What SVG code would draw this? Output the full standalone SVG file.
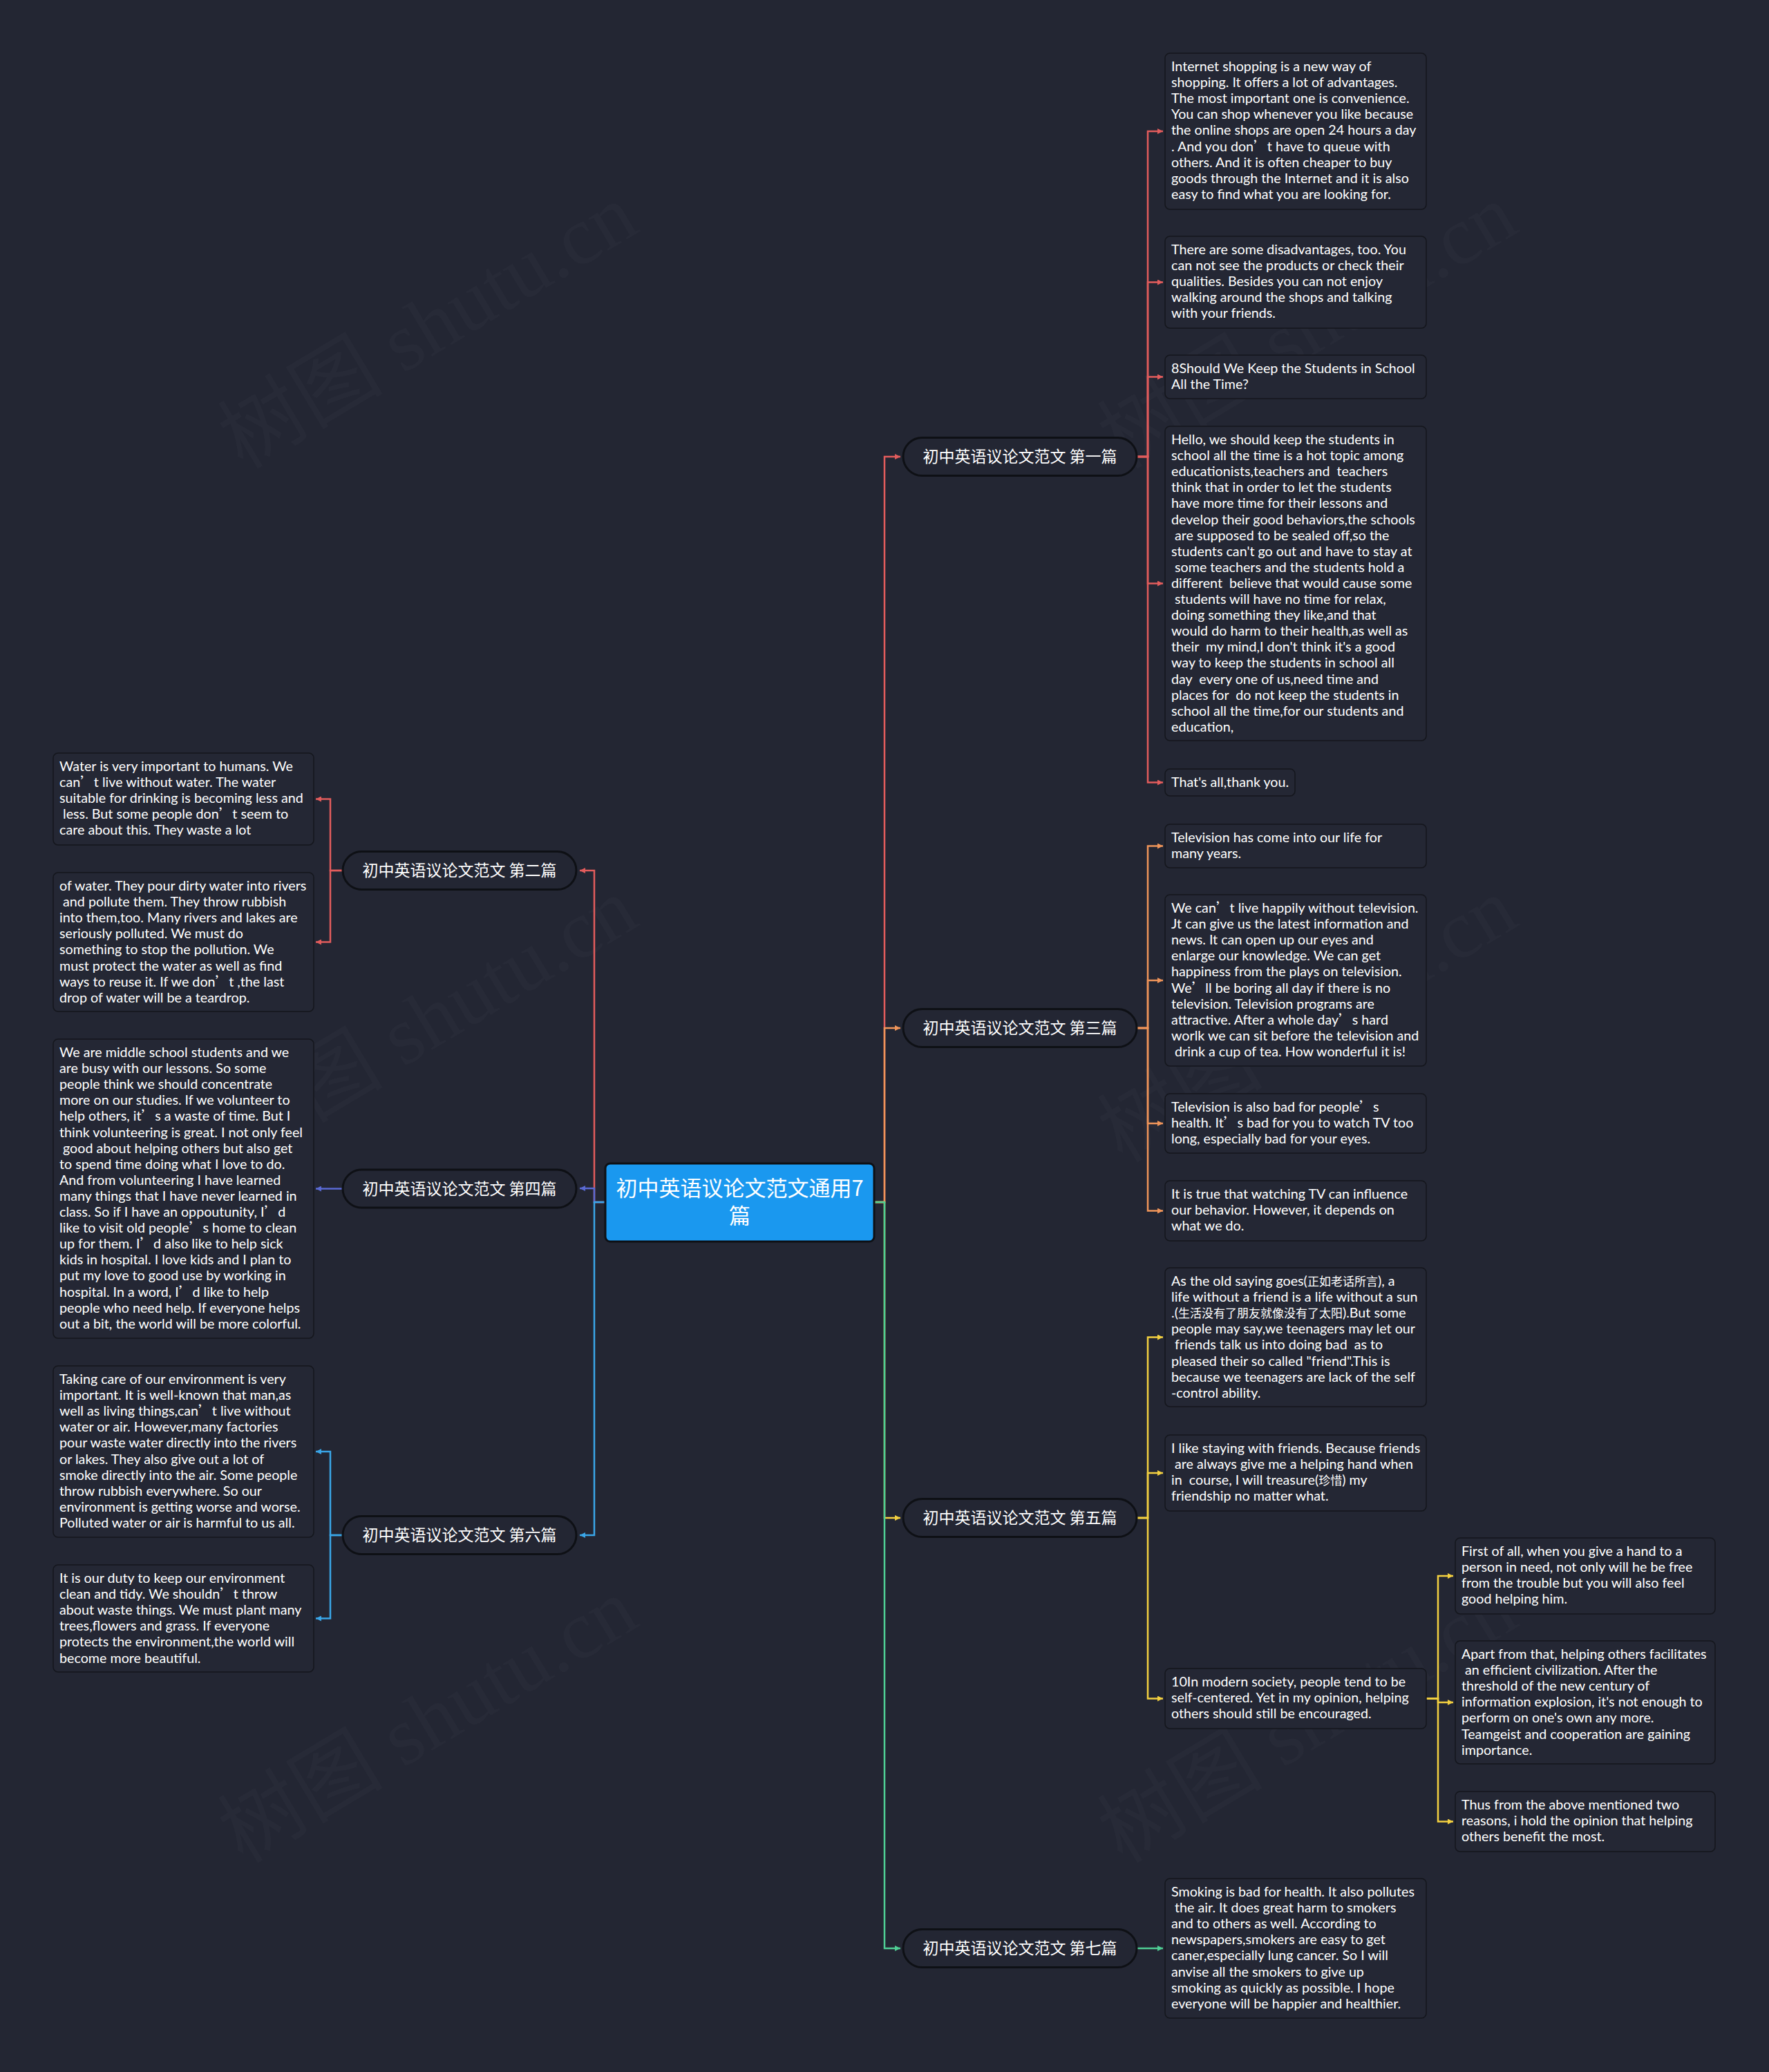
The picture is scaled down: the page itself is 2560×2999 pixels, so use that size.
<svg xmlns="http://www.w3.org/2000/svg" width="2560" height="2999" viewBox="0 0 2560 2999">
<style>
.bg{fill:#232633}
.wm{font-family:"Liberation Serif","Noto Sans CJK SC",serif;font-size:120px;fill:#ffffff;fill-opacity:0.02}
.box{fill:#242734;stroke:#14161c;stroke-width:1.5}
.bt{font-family:Lato,"Noto Sans CJK SC",sans-serif;font-size:19.7px;fill:#ffffff}
.q{font-family:"Noto Sans CJK SC",sans-serif}
.cj{font-family:"Noto Sans CJK SC",sans-serif;font-size:17px}
.nd{fill:#232633;stroke:#0e1015;stroke-width:3}
.nt{font-family:"Noto Sans CJK SC",sans-serif;font-size:23px;fill:#ffffff;text-anchor:middle}
.root{fill:#1a98ef;stroke:#0e1015;stroke-width:3}
.rt{font-family:"Noto Sans CJK SC",sans-serif;font-size:31px;fill:#ffffff;text-anchor:middle}
.c path{fill:none;stroke-width:2.5}
.red{stroke:#e25c5c}
.ora{stroke:#f0955a}
.yel{stroke:#f3d040}
.gre{stroke:#4fcf95}
.ind{stroke:#5a6ad4}
.blu{stroke:#3aa6e8}
</style>
<defs>
<marker id="aR" viewBox="0 0 10 10" refX="10" refY="5" markerWidth="9" markerHeight="8" markerUnits="userSpaceOnUse" orient="auto"><path d="M0,0L10,5L0,10z" fill="#e25c5c"/></marker>
<marker id="aO" viewBox="0 0 10 10" refX="10" refY="5" markerWidth="9" markerHeight="8" markerUnits="userSpaceOnUse" orient="auto"><path d="M0,0L10,5L0,10z" fill="#f0955a"/></marker>
<marker id="aY" viewBox="0 0 10 10" refX="10" refY="5" markerWidth="9" markerHeight="8" markerUnits="userSpaceOnUse" orient="auto"><path d="M0,0L10,5L0,10z" fill="#f3d040"/></marker>
<marker id="aG" viewBox="0 0 10 10" refX="10" refY="5" markerWidth="9" markerHeight="8" markerUnits="userSpaceOnUse" orient="auto"><path d="M0,0L10,5L0,10z" fill="#4fcf95"/></marker>
<marker id="aI" viewBox="0 0 10 10" refX="10" refY="5" markerWidth="9" markerHeight="8" markerUnits="userSpaceOnUse" orient="auto"><path d="M0,0L10,5L0,10z" fill="#5a6ad4"/></marker>
<marker id="aB" viewBox="0 0 10 10" refX="10" refY="5" markerWidth="9" markerHeight="8" markerUnits="userSpaceOnUse" orient="auto"><path d="M0,0L10,5L0,10z" fill="#3aa6e8"/></marker>
</defs>
<rect class="bg" x="0" y="0" width="2560" height="2999"/>
<g id="watermarks">
<text class="wm" transform="translate(640,507) rotate(-31)" text-anchor="middle">树图 shutu.cn</text>
<text class="wm" transform="translate(1913,507) rotate(-31)" text-anchor="middle">树图 shutu.cn</text>
<text class="wm" transform="translate(640,1511) rotate(-31)" text-anchor="middle">树图 shutu.cn</text>
<text class="wm" transform="translate(1913,1511) rotate(-31)" text-anchor="middle">树图 shutu.cn</text>
<text class="wm" transform="translate(640,2525) rotate(-31)" text-anchor="middle">树图 shutu.cn</text>
<text class="wm" transform="translate(1913,2525) rotate(-31)" text-anchor="middle">树图 shutu.cn</text>
</g>
<g id="connectors" class="c">
<path class="red" d="M1265,1740H1280V661H1303" marker-end="url(#aR)"/>
<path class="ora" d="M1265,1740H1280V1488H1303" marker-end="url(#aO)"/>
<path class="yel" d="M1265,1740H1280V2197H1303" marker-end="url(#aY)"/>
<path class="gre" d="M1265,1740H1280V2820H1303" marker-end="url(#aG)"/>
<path class="red" d="M876,1740H860V1260H839" marker-end="url(#aR)"/>
<path class="ind" d="M876,1740H860V1720H839" marker-end="url(#aI)"/>
<path class="blu" d="M876,1740H860V2222H839" marker-end="url(#aB)"/>
<path class="red" d="M1645,661H1661V190H1683" marker-end="url(#aR)"/>
<path class="red" d="M1645,661H1661V408.5H1683" marker-end="url(#aR)"/>
<path class="red" d="M1645,661H1661V545.5H1683" marker-end="url(#aR)"/>
<path class="red" d="M1645,661H1661V844.5H1683" marker-end="url(#aR)"/>
<path class="red" d="M1645,661H1661V1132.5H1683" marker-end="url(#aR)"/>
<path class="ora" d="M1645,1488H1661V1224.5H1683" marker-end="url(#aO)"/>
<path class="ora" d="M1645,1488H1661V1419H1683" marker-end="url(#aO)"/>
<path class="ora" d="M1645,1488H1661V1626H1683" marker-end="url(#aO)"/>
<path class="ora" d="M1645,1488H1661V1752.5H1683" marker-end="url(#aO)"/>
<path class="yel" d="M1645,2197H1661V1935.5H1683" marker-end="url(#aY)"/>
<path class="yel" d="M1645,2197H1661V2132H1683" marker-end="url(#aY)"/>
<path class="yel" d="M1645,2197H1661V2458.5H1683" marker-end="url(#aY)"/>
<path class="yel" d="M2064,2458.5H2081V2281H2103" marker-end="url(#aY)"/>
<path class="yel" d="M2064,2458.5H2081V2464H2103" marker-end="url(#aY)"/>
<path class="yel" d="M2064,2458.5H2081V2636.5H2103" marker-end="url(#aY)"/>
<path class="gre" d="M1645,2820H1683" marker-end="url(#aG)"/>
<path class="red" d="M496,1260H478V1156.5H457" marker-end="url(#aR)"/>
<path class="red" d="M496,1260H478V1363.5H457" marker-end="url(#aR)"/>
<path class="ind" d="M496,1720.5H457" marker-end="url(#aI)"/>
<path class="blu" d="M496,2222H478V2101H457" marker-end="url(#aB)"/>
<path class="blu" d="M496,2222H478V2342.5H457" marker-end="url(#aB)"/>
</g>
<g id="root">
<rect class="root" x="876" y="1684" width="389" height="113" rx="7"/>
<text class="rt"><tspan x="1070.5" y="1731">初中英语议论文范文通用7</tspan><tspan x="1070.5" y="1771">篇</tspan></text>
</g>
<g id="n1"><rect class="nd" x="1307" y="633.5" width="338" height="55" rx="27.5"/><text class="nt" x="1476" y="669">初中英语议论文范文 第一篇</text></g>
<g id="n3"><rect class="nd" x="1307" y="1460.5" width="338" height="55" rx="27.5"/><text class="nt" x="1476" y="1496">初中英语议论文范文 第三篇</text></g>
<g id="n5"><rect class="nd" x="1307" y="2169.5" width="338" height="55" rx="27.5"/><text class="nt" x="1476" y="2205">初中英语议论文范文 第五篇</text></g>
<g id="n7"><rect class="nd" x="1307" y="2792.5" width="338" height="55" rx="27.5"/><text class="nt" x="1476" y="2828">初中英语议论文范文 第七篇</text></g>
<g id="n2"><rect class="nd" x="496" y="1232.5" width="338" height="55" rx="27.5"/><text class="nt" x="665" y="1268">初中英语议论文范文 第二篇</text></g>
<g id="n4"><rect class="nd" x="496" y="1693" width="338" height="55" rx="27.5"/><text class="nt" x="665" y="1728.5">初中英语议论文范文 第四篇</text></g>
<g id="n6"><rect class="nd" x="496" y="2194.5" width="338" height="55" rx="27.5"/><text class="nt" x="665" y="2230">初中英语议论文范文 第六篇</text></g>
<g id="t1"><rect class="box" x="1686" y="77" width="378" height="226" rx="7"/><text class="bt" xml:space="preserve"><tspan x="1695" y="103">Internet shopping is a new way of</tspan><tspan x="1695" y="126.1">shopping. It offers a lot of advantages.</tspan><tspan x="1695" y="149.2">The most important one is convenience.</tspan><tspan x="1695" y="172.3">You can shop whenever you like because</tspan><tspan x="1695" y="195.4">the online shops are open 24 hours a day</tspan><tspan x="1695" y="218.5">. And you don<tspan class="q">’</tspan>t have to queue with</tspan><tspan x="1695" y="241.6">others. And it is often cheaper to buy</tspan><tspan x="1695" y="264.7">goods through the Internet and it is also</tspan><tspan x="1695" y="287.8">easy to find what you are looking for.</tspan></text></g>
<g id="t2"><rect class="box" x="1686" y="342" width="378" height="133" rx="7"/><text class="bt" xml:space="preserve"><tspan x="1695" y="368">There are some disadvantages, too. You</tspan><tspan x="1695" y="391.1">can not see the products or check their</tspan><tspan x="1695" y="414.2">qualities. Besides you can not enjoy</tspan><tspan x="1695" y="437.3">walking around the shops and talking</tspan><tspan x="1695" y="460.4">with your friends.</tspan></text></g>
<g id="t3"><rect class="box" x="1686" y="514" width="378" height="63" rx="7"/><text class="bt" xml:space="preserve"><tspan x="1695" y="540">8Should We Keep the Students in School</tspan><tspan x="1695" y="563.1">All the Time?</tspan></text></g>
<g id="t4"><rect class="box" x="1686" y="617" width="378" height="455" rx="7"/><text class="bt" xml:space="preserve"><tspan x="1695" y="643">Hello, we should keep the students in</tspan><tspan x="1695" y="666.1">school all the time is a hot topic among</tspan><tspan x="1695" y="689.2">educationists,teachers and  teachers</tspan><tspan x="1695" y="712.3">think that in order to let the students</tspan><tspan x="1695" y="735.4">have more time for their lessons and</tspan><tspan x="1695" y="758.5">develop their good behaviors,the schools</tspan><tspan x="1695" y="781.6"> are supposed to be sealed off,so the</tspan><tspan x="1695" y="804.7">students can't go out and have to stay at</tspan><tspan x="1695" y="827.8"> some teachers and the students hold a</tspan><tspan x="1695" y="850.9">different  believe that would cause some</tspan><tspan x="1695" y="874"> students will have no time for relax,</tspan><tspan x="1695" y="897.1">doing something they like,and that</tspan><tspan x="1695" y="920.2">would do harm to their health,as well as</tspan><tspan x="1695" y="943.3">their  my mind,I don't think it's a good</tspan><tspan x="1695" y="966.4">way to keep the students in school all</tspan><tspan x="1695" y="989.5">day  every one of us,need time and</tspan><tspan x="1695" y="1012.6">places for  do not keep the students in</tspan><tspan x="1695" y="1035.7">school all the time,for our students and</tspan><tspan x="1695" y="1058.8">education,</tspan></text></g>
<g id="t5"><rect class="box" x="1686" y="1113" width="188" height="39" rx="7"/><text class="bt" xml:space="preserve"><tspan x="1695" y="1139">That's all,thank you.</tspan></text></g>
<g id="t6"><rect class="box" x="1686" y="1193" width="378" height="63" rx="7"/><text class="bt" xml:space="preserve"><tspan x="1695" y="1219">Television has come into our life for</tspan><tspan x="1695" y="1242.1">many years.</tspan></text></g>
<g id="t7"><rect class="box" x="1686" y="1295" width="378" height="248" rx="7"/><text class="bt" xml:space="preserve"><tspan x="1695" y="1321">We can<tspan class="q">’</tspan>t live happily without television.</tspan><tspan x="1695" y="1344.1">Jt can give us the latest information and</tspan><tspan x="1695" y="1367.2">news. It can open up our eyes and</tspan><tspan x="1695" y="1390.3">enlarge our knowledge. We can get</tspan><tspan x="1695" y="1413.4">happiness from the plays on television.</tspan><tspan x="1695" y="1436.5">We<tspan class="q">’</tspan>ll be boring all day if there is no</tspan><tspan x="1695" y="1459.6">television. Television programs are</tspan><tspan x="1695" y="1482.7">attractive. After a whole day<tspan class="q">’</tspan>s hard</tspan><tspan x="1695" y="1505.8">worlk we can sit before the television and</tspan><tspan x="1695" y="1528.9"> drink a cup of tea. How wonderful it is!</tspan></text></g>
<g id="t8"><rect class="box" x="1686" y="1583" width="378" height="86" rx="7"/><text class="bt" xml:space="preserve"><tspan x="1695" y="1609">Television is also bad for people<tspan class="q">’</tspan>s</tspan><tspan x="1695" y="1632.1">health. It<tspan class="q">’</tspan>s bad for you to watch TV too</tspan><tspan x="1695" y="1655.2">long, especially bad for your eyes.</tspan></text></g>
<g id="t9"><rect class="box" x="1686" y="1709" width="378" height="87" rx="7"/><text class="bt" xml:space="preserve"><tspan x="1695" y="1735">It is true that watching TV can influence</tspan><tspan x="1695" y="1758.1">our behavior. However, it depends on</tspan><tspan x="1695" y="1781.2">what we do.</tspan></text></g>
<g id="t10"><rect class="box" x="1686" y="1835" width="378" height="201" rx="7"/><text class="bt" xml:space="preserve"><tspan x="1695" y="1861">As the old saying goes(<tspan class="cj">正如老话所言</tspan>), a</tspan><tspan x="1695" y="1884.1">life without a friend is a life without a sun</tspan><tspan x="1695" y="1907.2">.(<tspan class="cj">生活没有了朋友就像没有了太阳</tspan>).But some</tspan><tspan x="1695" y="1930.3">people may say,we teenagers may let our</tspan><tspan x="1695" y="1953.4"> friends talk us into doing bad  as to</tspan><tspan x="1695" y="1976.5">pleased their so called "friend".This is</tspan><tspan x="1695" y="1999.6">because we teenagers are lack of the self</tspan><tspan x="1695" y="2022.7">-control ability.</tspan></text></g>
<g id="t11"><rect class="box" x="1686" y="2077" width="378" height="110" rx="7"/><text class="bt" xml:space="preserve"><tspan x="1695" y="2103">I like staying with friends. Because friends</tspan><tspan x="1695" y="2126.1"> are always give me a helping hand when</tspan><tspan x="1695" y="2149.2">in  course, I will treasure(<tspan class="cj">珍惜</tspan>) my</tspan><tspan x="1695" y="2172.3">friendship no matter what.</tspan></text></g>
<g id="t12"><rect class="box" x="1686" y="2415" width="378" height="87" rx="7"/><text class="bt" xml:space="preserve"><tspan x="1695" y="2441">10In modern society, people tend to be</tspan><tspan x="1695" y="2464.1">self-centered. Yet in my opinion, helping</tspan><tspan x="1695" y="2487.2">others should still be encouraged.</tspan></text></g>
<g id="t13"><rect class="box" x="2106" y="2226" width="376" height="110" rx="7"/><text class="bt" xml:space="preserve"><tspan x="2115" y="2252">First of all, when you give a hand to a</tspan><tspan x="2115" y="2275.1">person in need, not only will he be free</tspan><tspan x="2115" y="2298.2">from the trouble but you will also feel</tspan><tspan x="2115" y="2321.3">good helping him.</tspan></text></g>
<g id="t14"><rect class="box" x="2106" y="2375" width="376" height="178" rx="7"/><text class="bt" xml:space="preserve"><tspan x="2115" y="2401">Apart from that, helping others facilitates</tspan><tspan x="2115" y="2424.1"> an efficient civilization. After the</tspan><tspan x="2115" y="2447.2">threshold of the new century of</tspan><tspan x="2115" y="2470.3">information explosion, it's not enough to</tspan><tspan x="2115" y="2493.4">perform on one's own any more.</tspan><tspan x="2115" y="2516.5">Teamgeist and cooperation are gaining</tspan><tspan x="2115" y="2539.6">importance.</tspan></text></g>
<g id="t15"><rect class="box" x="2106" y="2593" width="376" height="87" rx="7"/><text class="bt" xml:space="preserve"><tspan x="2115" y="2619">Thus from the above mentioned two</tspan><tspan x="2115" y="2642.1">reasons, i hold the opinion that helping</tspan><tspan x="2115" y="2665.2">others benefit the most.</tspan></text></g>
<g id="t16"><rect class="box" x="1686" y="2719" width="378" height="202" rx="7"/><text class="bt" xml:space="preserve"><tspan x="1695" y="2745">Smoking is bad for health. It also pollutes</tspan><tspan x="1695" y="2768.1"> the air. It does great harm to smokers</tspan><tspan x="1695" y="2791.2">and to others as well. According to</tspan><tspan x="1695" y="2814.3">newspapers,smokers are easy to get</tspan><tspan x="1695" y="2837.4">caner,especially lung cancer. So I will</tspan><tspan x="1695" y="2860.5">anvise all the smokers to give up</tspan><tspan x="1695" y="2883.6">smoking as quickly as possible. I hope</tspan><tspan x="1695" y="2906.7">everyone will be happier and healthier.</tspan></text></g>
<g id="t17"><rect class="box" x="77" y="1090" width="377" height="133" rx="7"/><text class="bt" xml:space="preserve"><tspan x="86" y="1116">Water is very important to humans. We</tspan><tspan x="86" y="1139.1">can<tspan class="q">’</tspan>t live without water. The water</tspan><tspan x="86" y="1162.2">suitable for drinking is becoming less and</tspan><tspan x="86" y="1185.3"> less. But some people don<tspan class="q">’</tspan>t seem to</tspan><tspan x="86" y="1208.4">care about this. They waste a lot</tspan></text></g>
<g id="t18"><rect class="box" x="77" y="1263" width="377" height="201" rx="7"/><text class="bt" xml:space="preserve"><tspan x="86" y="1289">of water. They pour dirty water into rivers</tspan><tspan x="86" y="1312.1"> and pollute them. They throw rubbish</tspan><tspan x="86" y="1335.2">into them,too. Many rivers and lakes are</tspan><tspan x="86" y="1358.3">seriously polluted. We must do</tspan><tspan x="86" y="1381.4">something to stop the pollution. We</tspan><tspan x="86" y="1404.5">must protect the water as well as find</tspan><tspan x="86" y="1427.6">ways to reuse it. If we don<tspan class="q">’</tspan>t ,the last</tspan><tspan x="86" y="1450.7">drop of water will be a teardrop.</tspan></text></g>
<g id="t19"><rect class="box" x="77" y="1504" width="377" height="433" rx="7"/><text class="bt" xml:space="preserve"><tspan x="86" y="1530">We are middle school students and we</tspan><tspan x="86" y="1553.1">are busy with our lessons. So some</tspan><tspan x="86" y="1576.2">people think we should concentrate</tspan><tspan x="86" y="1599.3">more on our studies. If we volunteer to</tspan><tspan x="86" y="1622.4">help others, it<tspan class="q">’</tspan>s a waste of time. But I</tspan><tspan x="86" y="1645.5">think volunteering is great. I not only feel</tspan><tspan x="86" y="1668.6"> good about helping others but also get</tspan><tspan x="86" y="1691.7">to spend time doing what I love to do.</tspan><tspan x="86" y="1714.8">And from volunteering I have learned</tspan><tspan x="86" y="1737.9">many things that I have never learned in</tspan><tspan x="86" y="1761">class. So if I have an oppoutunity, I<tspan class="q">’</tspan>d</tspan><tspan x="86" y="1784.1">like to visit old people<tspan class="q">’</tspan>s home to clean</tspan><tspan x="86" y="1807.2">up for them. I<tspan class="q">’</tspan>d also like to help sick</tspan><tspan x="86" y="1830.3">kids in hospital. I love kids and I plan to</tspan><tspan x="86" y="1853.4">put my love to good use by working in</tspan><tspan x="86" y="1876.5">hospital. In a word, I<tspan class="q">’</tspan>d like to help</tspan><tspan x="86" y="1899.6">people who need help. If everyone helps</tspan><tspan x="86" y="1922.7">out a bit, the world will be more colorful.</tspan></text></g>
<g id="t20"><rect class="box" x="77" y="1977" width="377" height="248" rx="7"/><text class="bt" xml:space="preserve"><tspan x="86" y="2003">Taking care of our environment is very</tspan><tspan x="86" y="2026.1">important. It is well-known that man,as</tspan><tspan x="86" y="2049.2">well as living things,can<tspan class="q">’</tspan>t live without</tspan><tspan x="86" y="2072.3">water or air. However,many factories</tspan><tspan x="86" y="2095.4">pour waste water directly into the rivers</tspan><tspan x="86" y="2118.5">or lakes. They also give out a lot of</tspan><tspan x="86" y="2141.6">smoke directly into the air. Some people</tspan><tspan x="86" y="2164.7">throw rubbish everywhere. So our</tspan><tspan x="86" y="2187.8">environment is getting worse and worse.</tspan><tspan x="86" y="2210.9">Polluted water or air is harmful to us all.</tspan></text></g>
<g id="t21"><rect class="box" x="77" y="2265" width="377" height="155" rx="7"/><text class="bt" xml:space="preserve"><tspan x="86" y="2291">It is our duty to keep our environment</tspan><tspan x="86" y="2314.1">clean and tidy. We shouldn<tspan class="q">’</tspan>t throw</tspan><tspan x="86" y="2337.2">about waste things. We must plant many</tspan><tspan x="86" y="2360.3">trees,flowers and grass. If everyone</tspan><tspan x="86" y="2383.4">protects the environment,the world will</tspan><tspan x="86" y="2406.5">become more beautiful.</tspan></text></g>
</svg>
